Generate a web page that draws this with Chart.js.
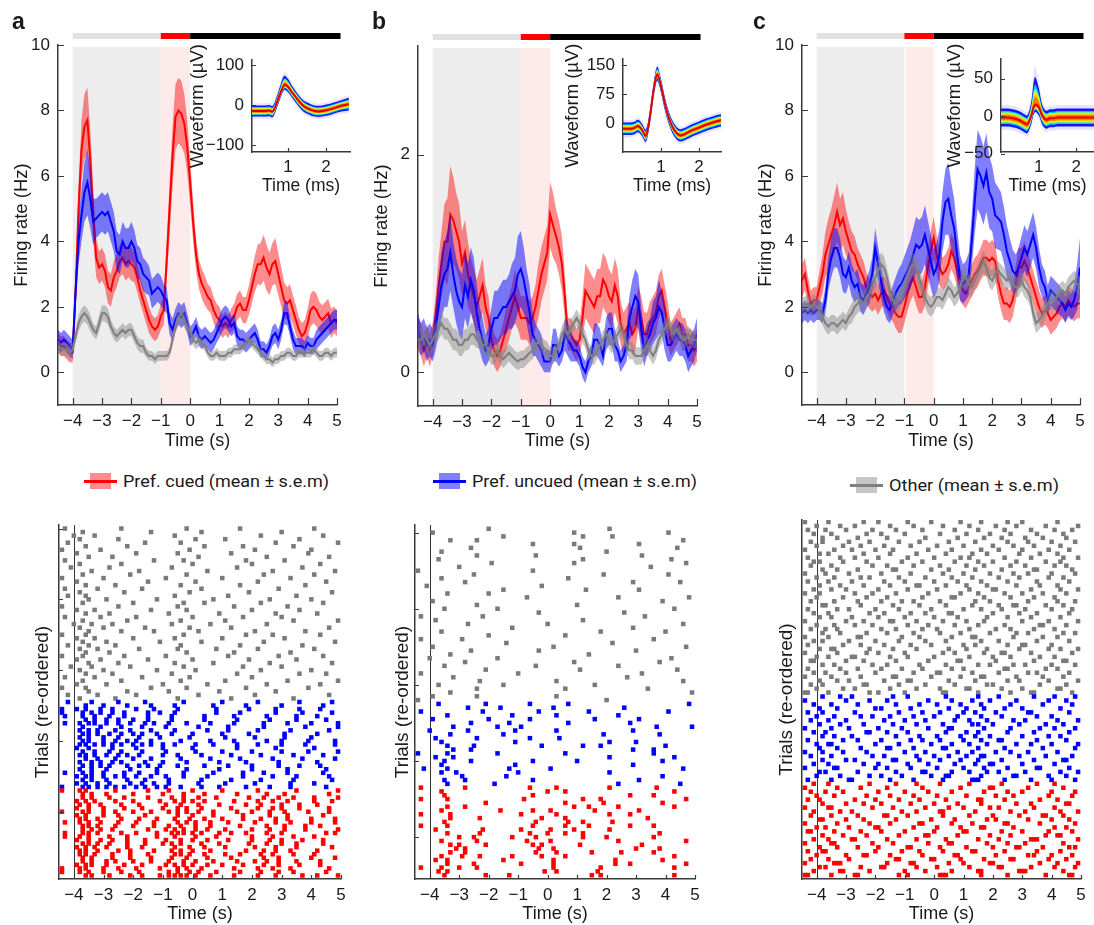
<!DOCTYPE html>
<html>
<head>
<meta charset="utf-8">
<title>Firing rates and spike rasters</title>
<script src="https://cdn.jsdelivr.net/npm/chart.js@4.4.1/dist/chart.umd.min.js"></script>
<style>
  html,body{margin:0;padding:0;background:#fff;}
  #fig{position:relative;width:1094px;height:925px;overflow:hidden;font-family:"Liberation Sans",Arial,sans-serif;color:#1a1a1a;}
  #fig canvas{position:absolute;}
  .letter{position:absolute;font-weight:bold;font-size:23px;line-height:23px;}
  .legend{position:absolute;height:20px;display:flex;align-items:center;white-space:nowrap;}
  .swatch{position:relative;width:33px;height:16px;margin-right:6px;flex:none;}
  .swatch .band{position:absolute;left:6px;top:0;width:21px;height:16px;}
  .swatch .line{position:absolute;left:0;top:6.5px;width:33px;height:3px;}
  .legend .txt{font-family:Roboto,"Liberation Sans",sans-serif;font-size:17px;transform-origin:0 50%;display:inline-block;}
</style>
</head>
<body>
<div id="fig"></div>
<script>
// ---------- firing-rate time bins (s) ----------
const rateBinStart = -4.5;
const rateBinWidth = 0.1;

// ---------- panel a: mean firing rate and s.e.m. (Hz) ----------
const rateA_cued = [
 0.9,0.8,0.8,0.7,0.6,0.6,2.5,5.0,6.8,7.5,
 7.7,6.5,4.8,3.5,3.2,3.3,3.1,2.6,2.5,2.9,
 3.1,3.4,3.5,3.3,3.4,3.3,3.2,2.9,2.5,2.2,
 1.9,1.6,1.4,1.3,1.4,1.7,1.9,3.4,5.0,6.6,
 7.8,8.0,7.9,7.6,6.9,5.8,4.6,3.6,3.0,2.7,
 2.5,2.3,2.2,1.9,1.7,1.6,1.4,1.5,1.4,1.6,
 1.7,2.0,2.1,1.9,1.9,2.2,2.6,3.0,3.3,3.3,
 3.5,3.2,3.0,3.3,3.4,3.0,2.6,2.2,2.1,2.2,
 1.9,1.6,1.3,1.1,1.2,1.5,1.9,2.0,1.9,1.7,
 1.6,1.7,1.8,1.5,1.6,1.5];
const semA_cued = [
 0.3,0.3,0.3,0.3,0.3,0.3,0.5,0.7,0.9,1.0,
 1.0,0.9,0.8,0.6,0.5,0.5,0.5,0.5,0.5,0.5,
 0.5,0.5,0.5,0.5,0.5,0.5,0.45,0.45,0.4,0.4,
 0.4,0.4,0.35,0.35,0.35,0.4,0.45,0.6,0.8,0.9,
 1.0,1.0,1.0,0.9,0.8,0.7,0.6,0.5,0.45,0.45,
 0.45,0.4,0.4,0.4,0.4,0.4,0.35,0.35,0.35,0.35,
 0.4,0.4,0.4,0.4,0.4,0.45,0.5,0.55,0.6,0.65,
 0.7,0.7,0.65,0.65,0.7,0.65,0.6,0.55,0.5,0.5,
 0.45,0.45,0.4,0.4,0.4,0.45,0.5,0.5,0.5,0.45,
 0.45,0.45,0.45,0.45,0.4,0.4];
const rateA_uncued = [
 1.0,0.9,1.0,0.9,0.8,0.7,2.5,4.0,4.8,5.5,
 5.8,5.3,4.6,4.7,4.8,4.9,4.8,4.9,4.6,4.3,
 3.7,3.6,4.0,3.8,3.8,4.0,3.8,3.4,3.3,3.0,
 2.9,2.8,2.4,2.5,2.6,2.5,2.3,2.2,1.5,1.3,
 1.6,1.8,1.7,1.8,1.5,1.1,1.2,1.4,1.1,1.0,
 1.1,1.0,0.9,1.0,1.2,1.4,1.6,1.7,1.6,1.4,
 1.5,1.1,1.0,1.0,0.9,1.0,1.1,1.2,1.0,0.7,
 0.7,0.6,0.8,1.1,1.2,1.0,1.3,1.8,1.8,1.4,
 1.0,0.8,0.8,0.8,0.7,0.9,0.8,0.8,1.0,1.1,
 1.2,1.3,1.4,1.5,1.6,1.6];
const semA_uncued = [
 0.3,0.3,0.3,0.3,0.3,0.3,0.5,0.7,0.8,0.9,
 1.0,0.9,0.7,0.6,0.6,0.6,0.6,0.6,0.6,0.6,
 0.6,0.6,0.6,0.6,0.6,0.6,0.55,0.5,0.5,0.5,
 0.5,0.45,0.45,0.45,0.45,0.45,0.4,0.4,0.35,0.35,
 0.35,0.35,0.35,0.35,0.3,0.3,0.3,0.3,0.3,0.3,
 0.3,0.3,0.3,0.3,0.3,0.35,0.35,0.35,0.35,0.3,
 0.3,0.3,0.3,0.3,0.3,0.3,0.3,0.3,0.3,0.25,
 0.25,0.25,0.25,0.3,0.3,0.3,0.3,0.35,0.35,0.3,
 0.3,0.25,0.25,0.25,0.25,0.25,0.25,0.25,0.3,0.3,
 0.3,0.3,0.3,0.3,0.3,0.3];
const rateA_other = [
 0.8,0.7,0.7,0.7,0.6,0.7,1.1,1.5,1.7,1.8,
 1.7,1.5,1.3,1.2,1.5,1.8,1.8,1.7,1.4,1.2,
 1.1,1.2,1.3,1.2,1.3,1.3,1.1,0.9,0.8,0.8,
 0.6,0.5,0.5,0.4,0.5,0.5,0.5,0.5,0.6,1.0,
 1.4,1.7,1.8,1.6,1.4,1.2,1.0,0.9,1.0,0.9,
 0.8,0.6,0.5,0.5,0.6,0.5,0.5,0.5,0.6,0.6,
 0.7,0.7,0.7,0.8,0.9,1.0,0.9,0.8,0.7,0.6,
 0.5,0.4,0.4,0.3,0.4,0.4,0.5,0.5,0.6,0.6,
 0.5,0.5,0.6,0.6,0.6,0.6,0.6,0.7,0.6,0.5,
 0.5,0.6,0.6,0.5,0.6,0.6];
const semA_other = [
 0.2,0.2,0.2,0.2,0.2,0.2,0.2,0.25,0.25,0.25,
 0.25,0.25,0.2,0.2,0.25,0.25,0.25,0.25,0.2,0.2,
 0.2,0.2,0.2,0.2,0.2,0.2,0.2,0.2,0.2,0.2,
 0.15,0.15,0.15,0.15,0.15,0.15,0.15,0.15,0.15,0.2,
 0.2,0.25,0.25,0.25,0.2,0.2,0.2,0.2,0.2,0.15,
 0.15,0.15,0.15,0.15,0.15,0.15,0.15,0.15,0.15,0.15,
 0.15,0.15,0.15,0.15,0.15,0.15,0.15,0.15,0.15,0.15,
 0.15,0.15,0.15,0.15,0.15,0.15,0.15,0.15,0.15,0.15,
 0.15,0.15,0.15,0.15,0.15,0.15,0.15,0.15,0.15,0.15,
 0.15,0.15,0.15,0.15,0.15,0.15];

// ---------- panel b ----------
const rateB_cued = [
 0.35,0.3,0.2,0.3,0.2,0.3,0.5,0.8,1.0,1.2,
 1.2,1.45,1.4,1.3,1.2,1.0,1.1,0.9,0.8,0.7,
 0.6,0.7,0.8,0.6,0.5,0.3,0.2,0.15,0.2,0.3,
 0.4,0.5,0.6,0.7,0.6,0.5,0.5,0.5,0.45,0.5,
 0.6,0.75,0.9,1.0,1.1,1.45,1.35,1.25,1.15,1.0,
 0.7,0.35,0.35,0.3,0.25,0.3,0.5,0.75,0.7,0.65,
 0.6,0.7,0.7,0.85,0.8,0.7,0.65,0.8,0.7,0.45,
 0.35,0.4,0.45,0.35,0.4,0.6,0.5,0.35,0.35,0.45,
 0.5,0.55,0.7,0.75,0.6,0.45,0.3,0.35,0.4,0.45,
 0.35,0.35,0.25,0.25,0.2,0.25];
const semB_cued = [
 0.15,0.15,0.15,0.15,0.15,0.15,0.2,0.25,0.3,0.35,
 0.4,0.45,0.4,0.35,0.35,0.3,0.3,0.3,0.25,0.25,
 0.25,0.25,0.25,0.2,0.2,0.15,0.15,0.15,0.15,0.15,
 0.2,0.2,0.2,0.25,0.2,0.2,0.2,0.2,0.2,0.2,
 0.2,0.25,0.25,0.25,0.25,0.3,0.3,0.25,0.25,0.25,
 0.2,0.15,0.15,0.15,0.15,0.15,0.2,0.25,0.25,0.25,
 0.25,0.25,0.25,0.25,0.25,0.25,0.25,0.25,0.25,0.2,
 0.2,0.2,0.2,0.2,0.2,0.2,0.2,0.2,0.2,0.2,
 0.2,0.2,0.2,0.2,0.2,0.2,0.15,0.15,0.15,0.15,
 0.15,0.15,0.15,0.15,0.15,0.15];
const rateB_uncued = [
 0.4,0.3,0.35,0.25,0.3,0.25,0.4,0.6,0.8,0.9,
 0.95,1.1,0.9,0.75,0.65,0.6,0.8,0.7,0.85,0.75,
 0.55,0.4,0.3,0.2,0.25,0.4,0.5,0.5,0.55,0.6,
 0.6,0.65,0.7,0.75,0.9,0.95,0.85,0.7,0.55,0.35,
 0.3,0.25,0.2,0.1,0.1,0.1,0.25,0.25,0.15,0.2,
 0.35,0.3,0.25,0.2,0.2,0.15,0.05,0.0,0.1,0.15,
 0.3,0.3,0.25,0.15,0.35,0.4,0.4,0.25,0.2,0.1,
 0.15,0.25,0.5,0.6,0.7,0.65,0.4,0.2,0.3,0.35,
 0.45,0.5,0.6,0.55,0.4,0.25,0.25,0.3,0.35,0.3,
 0.3,0.25,0.15,0.2,0.25,0.35];
const semB_uncued = [
 0.15,0.15,0.15,0.15,0.15,0.15,0.2,0.25,0.3,0.3,
 0.35,0.35,0.3,0.3,0.3,0.3,0.3,0.3,0.3,0.3,
 0.25,0.2,0.2,0.15,0.15,0.2,0.25,0.25,0.25,0.25,
 0.25,0.25,0.3,0.3,0.35,0.35,0.3,0.25,0.25,0.2,
 0.15,0.15,0.15,0.1,0.1,0.1,0.15,0.15,0.1,0.1,
 0.15,0.15,0.15,0.1,0.1,0.1,0.1,0.1,0.1,0.1,
 0.15,0.15,0.15,0.1,0.15,0.15,0.15,0.15,0.1,0.1,
 0.1,0.15,0.2,0.25,0.25,0.25,0.2,0.15,0.15,0.15,
 0.2,0.2,0.25,0.2,0.2,0.15,0.15,0.15,0.15,0.15,
 0.15,0.15,0.15,0.15,0.15,0.15];
const rateB_other = [
 0.3,0.3,0.35,0.3,0.25,0.3,0.35,0.4,0.45,0.4,
 0.4,0.35,0.3,0.3,0.25,0.25,0.3,0.3,0.35,0.35,
 0.3,0.3,0.25,0.25,0.2,0.15,0.15,0.2,0.15,0.12,
 0.15,0.18,0.15,0.12,0.1,0.12,0.12,0.15,0.18,0.2,
 0.25,0.28,0.25,0.22,0.2,0.15,0.15,0.2,0.25,0.35,
 0.4,0.35,0.4,0.45,0.5,0.45,0.35,0.3,0.2,0.15,
 0.15,0.2,0.25,0.3,0.35,0.3,0.25,0.3,0.35,0.4,
 0.35,0.25,0.2,0.2,0.15,0.15,0.15,0.2,0.25,0.2,
 0.15,0.2,0.3,0.35,0.4,0.45,0.4,0.35,0.4,0.35,
 0.3,0.3,0.35,0.3,0.3,0.3];
const semB_other = [
 0.1,0.1,0.1,0.1,0.1,0.1,0.1,0.1,0.1,0.1,
 0.1,0.1,0.1,0.1,0.1,0.1,0.1,0.1,0.1,0.1,
 0.08,0.08,0.08,0.08,0.08,0.08,0.08,0.08,0.08,0.08,
 0.08,0.08,0.08,0.08,0.08,0.08,0.08,0.08,0.08,0.08,
 0.08,0.08,0.08,0.08,0.08,0.08,0.08,0.08,0.08,0.08,
 0.08,0.08,0.08,0.08,0.08,0.08,0.08,0.08,0.08,0.08,
 0.08,0.08,0.08,0.08,0.08,0.08,0.08,0.08,0.08,0.08,
 0.08,0.08,0.08,0.08,0.08,0.08,0.08,0.08,0.08,0.08,
 0.08,0.08,0.08,0.08,0.08,0.08,0.08,0.08,0.08,0.08,
 0.08,0.08,0.08,0.08,0.08,0.08];

// ---------- panel c ----------
const rateC_cued = [
 2.8,3.0,2.5,2.1,2.2,2.2,2.6,3.0,3.6,3.9,
 4.2,4.5,4.9,4.5,4.7,4.3,4.0,3.7,3.6,3.3,
 3.1,2.9,2.6,2.4,2.3,2.4,2.2,2.4,2.5,2.3,
 2.1,2.0,1.8,1.7,1.7,2.0,2.4,2.7,2.9,2.6,
 2.3,2.3,2.6,3.2,3.7,4.1,3.6,3.2,3.0,3.1,
 3.3,3.7,3.5,3.1,2.7,2.5,2.4,2.6,2.8,3.0,
 3.1,3.3,3.5,3.5,3.4,3.5,3.4,2.8,2.4,2.1,
 2.1,2.0,2.2,2.7,3.2,3.2,3.4,3.2,2.9,2.6,
 2.3,2.0,1.8,1.9,1.8,1.6,1.7,1.8,2.0,2.1,
 2.0,2.2,2.1,2.0,2.1,2.1];
const semC_cued = [
 0.5,0.5,0.45,0.4,0.4,0.4,0.5,0.6,0.7,0.8,
 0.8,0.9,0.9,0.8,0.8,0.7,0.6,0.6,0.55,0.5,
 0.5,0.5,0.45,0.45,0.45,0.45,0.45,0.45,0.45,0.45,
 0.45,0.45,0.45,0.5,0.5,0.5,0.55,0.55,0.55,0.55,
 0.5,0.5,0.55,0.6,0.6,0.65,0.6,0.55,0.5,0.5,
 0.5,0.55,0.55,0.5,0.5,0.45,0.45,0.45,0.5,0.5,
 0.5,0.5,0.55,0.55,0.55,0.55,0.55,0.5,0.5,0.5,
 0.5,0.5,0.5,0.55,0.6,0.6,0.6,0.55,0.5,0.5,
 0.5,0.5,0.45,0.45,0.45,0.45,0.45,0.45,0.45,0.45,
 0.45,0.45,0.45,0.45,0.45,0.45];
const rateC_uncued = [
 1.8,1.9,1.8,1.9,1.8,1.9,1.9,1.8,2.2,3.0,
 3.5,3.8,3.8,3.5,3.0,2.9,3.2,2.8,2.6,2.7,
 2.3,2.2,2.4,2.6,3.0,3.8,3.3,2.8,2.3,2.0,
 1.9,2.2,2.4,2.6,2.7,2.9,3.1,3.3,3.6,3.9,
 3.8,3.9,4.2,3.8,3.4,3.0,3.2,3.6,4.6,5.2,
 5.3,4.8,4.4,3.6,2.9,2.7,2.8,3.0,4.0,5.2,
 6.2,6.0,5.7,6.1,5.5,5.3,4.8,4.7,4.6,4.2,
 3.7,3.4,3.1,3.0,3.2,3.5,3.8,3.6,3.9,4.2,
 3.8,3.2,2.8,2.6,2.2,2.5,2.4,2.3,2.2,2.1,
 1.9,2.1,2.0,2.2,2.6,3.2];
const semC_uncued = [
 0.3,0.3,0.3,0.3,0.3,0.3,0.3,0.3,0.4,0.5,
 0.6,0.6,0.6,0.6,0.55,0.5,0.5,0.5,0.45,0.45,
 0.45,0.45,0.45,0.5,0.5,0.6,0.55,0.5,0.45,0.4,
 0.4,0.45,0.5,0.55,0.6,0.65,0.7,0.75,0.8,0.85,
 0.85,0.85,0.9,0.85,0.8,0.75,0.75,0.8,0.9,1.0,
 1.1,1.0,0.9,0.8,0.7,0.6,0.6,0.65,0.8,1.0,
 1.2,1.2,1.2,1.2,1.1,1.0,1.0,0.95,0.9,0.85,
 0.8,0.7,0.65,0.6,0.6,0.65,0.7,0.7,0.7,0.7,
 0.65,0.6,0.5,0.5,0.45,0.45,0.45,0.45,0.45,0.4,
 0.4,0.4,0.4,0.5,0.7,0.9];
const rateC_other = [
 2.0,2.0,2.1,2.0,2.1,2.0,1.9,1.7,1.5,1.4,
 1.5,1.5,1.4,1.5,1.6,1.5,1.7,1.8,2.0,2.1,
 2.2,2.1,2.3,2.4,2.6,2.9,3.1,3.3,3.2,2.9,
 2.5,2.2,2.1,2.2,2.4,2.6,2.9,3.2,3.3,3.2,
 2.9,2.6,2.3,2.1,2.0,2.1,2.3,2.3,2.2,2.4,
 2.6,2.5,2.3,2.4,2.6,2.9,2.9,2.7,2.6,2.8,
 3.0,3.2,3.4,3.2,2.9,2.8,3.0,3.1,3.0,2.9,
 2.8,2.9,2.7,2.6,2.6,2.8,2.6,2.5,2.3,1.8,
 1.5,1.6,1.7,1.9,2.1,2.2,2.2,2.3,2.4,2.5,
 2.4,2.6,2.7,2.8,2.7,2.6];
const semC_other = [
 0.3,0.3,0.3,0.3,0.3,0.3,0.3,0.25,0.25,0.25,
 0.25,0.25,0.25,0.25,0.25,0.25,0.25,0.3,0.3,0.3,
 0.3,0.3,0.3,0.3,0.3,0.35,0.35,0.35,0.35,0.3,
 0.3,0.3,0.3,0.3,0.3,0.3,0.35,0.35,0.35,0.35,
 0.35,0.3,0.3,0.3,0.3,0.3,0.3,0.3,0.3,0.3,
 0.3,0.3,0.3,0.3,0.3,0.3,0.3,0.3,0.3,0.3,
 0.3,0.3,0.35,0.3,0.3,0.3,0.3,0.3,0.3,0.3,
 0.3,0.3,0.3,0.3,0.3,0.3,0.3,0.3,0.3,0.3,
 0.3,0.3,0.3,0.3,0.3,0.3,0.3,0.3,0.3,0.3,
 0.3,0.3,0.3,0.3,0.3,0.3];

// ---------- axis ticks ----------
const timeTicks = [-4,-3,-2,-1,0,1,2,3,4,5];
const rateTicksA = [0,2,4,6,8,10];
const rateTicksB = [0,2];
const rateTicksC = [0,2,4,6,8,10];
const waveTimeTicks = [1,2];
const waveTicksA = [-100,0,100];
const waveTicksB = [0,75,150];
const waveTicksC = [-50,0,50];
const trialTicksA = [19,39,59,79,99];
const trialTicksB = [11,31,51,71,91];
const trialTicksC = [];

// ---------- spike waveforms (µV) ----------
const waveTime = [0,0.1,0.2,0.3,0.4,0.5,0.6,0.7,0.8,0.9,1.0,1.1,1.2,1.3,1.4,1.5,1.6,1.7,1.8,1.9,2.0,2.1,2.2,2.3,2.4,2.5,2.6];
const waveA    = [-15,-15,-15,-15,-15,-14,-16,5,30,50,45,32,20,8,-2,-8,-12,-15,-16,-15,-13,-11,-8,-5,-2,0,2];
const waveA_hi = [14,14,14,14,14,14,14,16,20,23,20,17,15,14,14,14,14,14,14,14,14,14,14,14,14,15,16];
const waveA_lo = [14,14,14,14,14,14,14,13,12,12,13,13,14,14,14,14,14,14,14,14,14,14,14,14,14,15,16];
const waveB    = [-15,-15,-15,-13,-8,-18,-33,10,80,125,95,50,15,-10,-25,-32,-30,-25,-20,-16,-12,-8,-4,-1,2,5,7];
const waveB_hi = [16,16,16,16,16,16,16,17,18,20,18,17,16,16,16,16,16,16,16,16,16,16,16,16,16,16,16];
const waveB_lo = [16,16,16,16,16,16,16,16,16,16,16,16,16,16,16,16,16,16,16,16,16,16,16,16,16,16,16];
const waveC    = [-2,-2,-2,-3,-4,-6,-9,-11,0,15,12,0,-5,-3,-3,-2,-2,-2,-2,-2,-2,-2,-2,-2,-2,-2,-2];
const waveC_hi = [12,12,12,12,12,12,12,12,18,37,26,14,12,12,12,12,12,12,12,12,12,12,12,12,12,12,12];
const waveC_lo = [12,12,12,12,12,12,12,12,11,10,11,12,12,12,12,12,12,12,12,12,12,12,12,12,12,12,12];

// ---------- spike rasters: one array of spike times (s) per trial ----------
const rasterA_cued = [
 [-3.6,-3.4,-2.8,-2.1,-1.7,-1.1,-0.8,-0.6,-0.4,-0.2,0.1,0.6,1.4,2.2,2.8,3.7,4.2,4.9],
 [-4.4,-3.8,-3.5,-3.0,-2.4,-1.8,-0.8,-0.5,-0.1,0.2,0.8,1.6,2.3,2.9,3.4,4.5],
 [-4.4,-3.8,-3.6,-3.0,-2.5,-1.9,-1.1,-0.5,-0.2,0.3,1.4,2.2,2.7,3.3,4.6],
 [-3.9,-3.6,-3.4,-2.9,-2.3,-1.7,-0.9,-0.6,-0.3,0.0,0.5,1.0,1.7,2.4,2.9,3.6,4.3],
 [-3.7,-3.4,-2.9,-2.6,-2.0,-1.4,-0.8,-0.3,0.1,0.7,1.5,2.1,2.5,2.9,3.5,4.3],
 [-3.7,-3.4,-2.7,-2.1,-1.4,-0.7,-0.2,0.5,1.3,2.4,2.9,4.0,4.8],
 [-3.8,-3.6,-3.3,-2.7,-2.1,-1.5,-0.6,-0.4,-0.1,0.4,1.1,1.6,2.3,2.7,3.4,4.1],
 [-3.8,-3.6,-3.2,-2.5,-2.1,-1.3,-0.7,-0.4,0.0,0.6,1.8,2.4,2.8,3.3,4.2],
 [-3.9,-3.6,-3.3,-2.9,-2.2,-1.7,-0.6,-0.1,0.4,1.1,2.1,2.8,3.5,4.7],
 [-3.7,-3.5,-3.2,-2.8,-2.2,-1.6,-1.0,-0.7,-0.4,0.3,0.9,1.9,2.5,3.0,3.5,4.4],
 [-3.9,-3.5,-3.1,-2.7,-2.2,-1.6,-0.9,-0.4,0.0,0.5,1.2,2.0,2.6,3.0,3.7,4.4],
 [-4.3,-3.8,-3.5,-2.8,-2.2,-1.2,-0.6,0.1,0.8,2.0,2.7,3.4,4.1],
 [-4.3,-3.7,-3.5,-3.2,-2.4,-1.9,-1.2,-0.7,-0.5,-0.3,0,0.3,0.9,1.3,1.8,2.5,3.0,4.5,4.8],
 [-3.7,-3.4,-3.1,-2.7,-1.5,-0.9,-0.6,-0.3,0.1,0.5,1.1,2.0,2.6,3.1,3.8,4.9],
 [-3.7,-3.5,-3.2,-2.6,-2.0,-1.3,-0.8,-0.4,0.1,0.6,1.6,2.5,3.1,3.8,4.3],
 [-4.3,-3.8,-3.5,-3.1,-2.5,-1.9,-1.3,-0.5,-0.2,0.1,0.6,1.2,2.1,2.8,3.3,4.0,4.8],
 [-3.8,-3.6,-3.2,-2.4,-1.8,-1.2,-0.6,-0.1,0.4,1.0,1.7,2.3,2.8,3.2,4.0,4.8],
 [-3.9,-3.6,-3.0,-2.5,-1.6,-0.5,0.0,0.7,1.7,2.6,3.2,4.4],
 [-4.4,-3.7,-3.5,-3.0,-2.6,-2.0,-1.4,-0.8,-0.5,-0.2,0.2,0.7,1.5,2.0,2.6,3.1,3.9,4.6],
 [-3.9,-3.5,-3.0,-2.3,-1.7,-1.0,-0.5,-0.2,0.3,1.3,2.2,2.7,3.0,3.6,4.6],
 [-3.8,-3.5,-3.1,-2.4,-1.8,-0.9,-0.4,0.2,0.9,1.8,2.3,3.0,3.6,4.2],
 [-3.9,-3.6,-3.3,-2.6,-2.0,-1.1,-0.6,-0.3,0.0,0.4,1.4,2.2,2.7,3.2,4.1,4.7],
 [-3.7,-3.4,-2.8,-2.3,-1.5,-0.7,-0.3,0.2,0.8,1.9,2.4,2.9,3.4,4.1,4.9],
 [-3.7,-3.4,-2.9,-2.0,-1.0,-0.3,0.4,1.5,2.5,3.1,4.6],
 [-4.4,-3.8,-3.6,-2.6,-1.5,-0.8,0.0,1.0,2.2,3.5,4.9]];
const rasterA_uncued = [
 [-4.4,-3.7,-3.5,-3.2,-2.9,-2.6,-2.3,-1.9,-1.6,-1.2,-0.9,-0.4,0.3,0.9,1.8,2.6,3.3,4.5],
 [-3.9,-3.6,-3.2,-2.8,-2.1,-1.7,-1.3,-0.8,0.2,1.1,2.1,3.3,4.1],
 [-3.7,-3.4,-2.9,-2.2,-1.6,-0.8,0.3,1.3,2.3,3.4,4.7],
 [-3.9,-3.6,-3.4,-3.0,-2.6,-2.3,-1.9,-1.4,-0.9,-0.3,0.5,1.7,2.7,3.5,4.6],
 [-4.3,-3.7,-3.4,-3.0,-2.3,-1.8,-1.2,-0.3,0.7,1.7,2.4,3.2,4.4],
 [-3.8,-3.4,-2.9,-2.1,-1.2,-0.2,0.9,2.0,3.2,4.5],
 [-3.7,-3.4,-3.1,-2.8,-2.2,-1.8,-1.5,-1.1,-0.5,0.4,1.2,2.0,2.9,3.6,4.3],
 [-3.8,-3.4,-3.1,-2.7,-2.4,-1.6,-1.0,-0.2,0.9,1.8,2.9,4.2],
 [-3.6,-3.2,-2.6,-2.0,-1.4,-0.4,0.6,1.6,2.7,3.7,4.8],
 [-3.8,-3.6,-3.3,-2.9,-2.5,-2.2,-1.8,-1.0,-0.5,0.3,1.3,2.3,3.4,4.4],
 [-3.7,-3.3,-2.8,-2.4,-1.7,-0.9,0.1,1.0,2.0,3.0,3.9,4.9],
 [-3.9,-3.5,-2.7,-1.9,-1.0,0.0,1.5,2.8,4.1],
 [-3.8,-3.6,-3.3,-3.0,-2.7,-2.4,-2.0,-1.7,-1.4,-1.0,-0.6,0.1,0.7,1.5,2.2,3.0,3.8,4.8],
 [-3.7,-3.5,-3.0,-2.6,-2.2,-1.9,-1.4,-0.4,0.6,1.4,2.5,3.0,3.9,4.8],
 [-3.8,-3.5,-3.0,-2.5,-1.8,-1.1,-0.1,1.1,2.1,3.1,4.0],
 [-3.7,-3.5,-3.2,-2.8,-2.4,-2.0,-1.7,-1.2,-0.7,0.0,1.0,1.9,3.1,4.2],
 [-3.8,-3.5,-3.2,-2.6,-2.1,-1.4,-0.6,0.5,1.2,2.2,3.3,4.6],
 [-3.7,-3.1,-2.4,-1.7,-0.9,0.2,1.2,2.4,3.8,4.9],
 [-4.3,-3.8,-3.5,-3.3,-2.9,-2.5,-2.1,-1.6,-1.3,-0.8,-0.2,0.6,1.4,2.4,3.2,4.0,4.9],
 [-3.6,-3.3,-2.9,-2.5,-2.0,-1.5,-0.7,0.4,1.5,2.6,3.5,4.5],
 [-4.3,-3.7,-3.3,-2.8,-2.3,-1.5,-0.7,0.4,1.4,2.5,3.5,4.2],
 [-4.4,-3.7,-3.4,-3.1,-2.7,-2.3,-1.5,-1.1,-0.6,0.8,1.6,2.8,3.7,4.7],
 [-4.4,-3.9,-3.6,-3.1,-2.7,-1.9,-1.3,-0.5,0.8,1.9,2.8,3.6,4.3],
 [-3.6,-3.0,-2.2,-1.4,-0.6,0.7,1.8,3.0,4.4],
 [-4.2,-3.4,-2.5,-1.6,-0.3,1.0,2.2,3.6,4.7]];
const rasterA_other = [
 [-3.8,-2.6,-0.5,1.3,3.4],[-4.2,-3.2,-1.9,0.2,2.1,4.6],[-3.5,-2.2,-0.8,0.9,2.8],
 [-4.4,-3.6,-1.4,-0.2,1.8,3.9],[-3.9,-2.9,-1.0,0.5,2.5,4.3],[-3.7,-2.4,-0.4,1.1,3.2,4.9],
 [-4.3,-3.3,-1.7,-0.1,2.0],[-3.6,-2.7,-0.7,1.5,3.6,4.5],[-3.8,-3.0,-1.2,0.1,2.3,4.0],
 [-4.1,-3.4,-2.1,-0.3,1.7,3.0],[-3.5,-2.5,-0.6,0.7,2.6,4.7],[-3.9,-3.1,-1.5,0.0,1.9,3.5],
 [-4.4,-3.7,-2.3,-0.9,1.2,2.9,4.4],[-3.6,-2.8,-0.2,1.4,3.3],[-3.8,-3.2,-1.8,-0.5,0.8,2.2,4.1],
 [-4.2,-3.5,-2.6,-0.4,1.6,3.7],[-3.7,-2.9,-1.1,0.3,2.4,4.8],[-3.9,-3.3,-2.0,-0.6,1.0,3.1],
 [-4.4,-3.6,-0.3,1.8,2.7,4.3],[-3.5,-2.4,-1.3,0.2,2.1,3.8],[-3.8,-3.0,-1.6,-0.1,1.3,4.6],
 [-4.0,-3.4,-2.7,-0.7,0.6,2.5],[-3.7,-2.2,-0.4,1.1,3.4,4.9],[-4.3,-3.1,-1.9,0.0,1.7,3.0],
 [-3.6,-2.8,-0.8,0.9,2.8,4.2],[-3.9,-3.3,-1.4,-0.2,2.0,3.6],[-4.4,-2.5,-0.5,1.4,3.2],
 [-3.7,-2.0,-0.3,0.4,2.3,4.4],[-3.5,-2.9,-1.2,0.7,2.6,4.0],[-4.2,-3.6,-0.6,1.2,3.5],
 [-3.8,-2.3,-0.1,1.9,4.7],[-4.3,-3.2,-1.7,0.3,2.9],[-3.6,-2.6,-0.4,1.6,3.8],
 [-3.9,-1.5,0.1,2.2,4.5],[-4.4,-3.0,-0.9,1.0,3.3],[-3.7,-2.1,-0.2,2.4,4.1],
 [-3.4,-1.8,0.5,2.7,4.8],[-4.1,-2.8,-0.7,1.5,3.7],[-3.8,-2.4,0.0,2.0,4.3],
 [-4.3,-1.3,-0.3,1.8,3.1],[-3.5,-2.7,0.2,2.5,4.6],[-3.9,-1.9,-0.5,1.3,3.9],
 [-4.4,-3.1,-0.1,2.1,4.0],[-3.6,-2.2,0.4,1.7,3.4],[-4.2,-1.6,-0.4,2.8,4.9],
 [-3.8,-2.5,0.1,1.1,3.6],[-4.0,-3.3,-0.6,2.3,4.4],[-3.7,-1.4,0.3,3.0],
 [-4.3,-2.4,-0.2,1.6,4.1]];

const rasterB_cued = [
 [-3.5,-2.1,-1.3,1.5,1.8,4.3],[-3.7,-3.4,-0.1,0.3,1.7],[-4.3,-3.6,-3.0,-2.4,0.2,1.8,4.3],
 [-3.4,-2.5,-0.9,0.2,2.3,2.8,4.7],[-3.8,-3.4,-1.5,0.2,2.3,3.9],[-3.6,-2.9,-2.3,-1.2,-0.2,0.6,4.3],
 [-3.3,-2.8,-0.4,0.3,1.5,2.5,3.6],[-3.1,-2.8,-0.3,0.2,3.0,3.8],[-3.3,-3.0,-2.1,-0.5,-0.2,1.1,3.2],
 [-3.6,-2.4,-0.7,0.1,2.4,4.7],[-3.0,-2.5,-1.2,-0.4,1.2,2.0,3.6],[-3.4,-2.3,-0.6,0.0,0.6,1.2,3.8],
 [-3.8,-2.2,-0.9,0.1,0.9,2.1],[-4.3,-3.4,-0.5,0.6,1.4,2.8,3.6],[-3.5,-0.4,0.7,1.2,2.2],
 [-3.3,-2.3,-0.2,0.6,3.4],[-4.3,-3.3,-0.9,0.3,2.1,2.8],[-3.6,-1.6,-0.5,0.1,1.6,3.1],
 [-3.4,-2.8,0.9,1.4,2.4,4.3],[-2.1,0.6,1.9,3.9],[-4.3,-3.4,-0.8,1.2,1.8,4.7],
 [-3.5,-0.5,2.8,3.6],[-3.6,0.0,0.6,4.3],[-4.3,-2.8,-0.6,0.3,2.1,3.7]];
const rasterB_uncued = [
 [-3.4,-1.8,2.4,4.5],[-3.5,-2.8,-0.5,3.1],[-2.9,-1.4,3.9],[-3.6,-3.1,-1.0,2.1],
 [-4.2,-3.4,-1.3,0.1,4.6],[-3.6,-1.1,2.9],[-3.5,-2.6,-0.5,1.0,3.9],[-3.8,-3.2,2.1,4.3],
 [-4.4,-3.4,-1.7,0.6,3.6],[-3.2,-2.6,2.9,3.6],[-3.4,-2.5,-0.2,1.2,1.8,4.0],[-3.6,-1.1,2.1,3.0],
 [-3.8,-2.4,-0.6,0.4],[-3.3,-1.5,1.9,3.8],[-4.0,-2.7,-1.1,0.3,2.9],[-3.2,-1.7,-0.9,3.7,4.9],
 [-2.6,-1.3,0.7,2.8],[-3.9,-2.0,-0.6,1.6,3.1],[-3.4,-1.2,0.3,2.4],[-4.3,-2.2,-0.3,1.4,4.1],
 [-2.7,-1.6,0.2,2.6],[-3.7,-2.1,-0.6,0.7,4.8]];
const rasterB_other = [
 [-4.4,2.0],[-3.9,-2.4,0.3],[-3.3,4.9],[-2.4,0.6,3.4],[-3.7,-1.5,1.6],[-2.3,0.3,4.6],
 [-3.2,2.7],[-4.3,-1.0,3.2],[-2.1,1.1,4.4],[-3.5,-0.4,2.4],[-2.8,0.9,3.8],[-4.0,-1.7,4.2],
 [-3.3,1.4],[-2.6,-0.3,3.0],[-3.9,0.2,4.7],[-1.4,2.2],[-4.3,-2.9,3.6],[-2.0,0.6],
 [-3.6,1.8,4.0],[-1.2,2.9],[-2.7,0.0,4.6],[-3.8,1.2],[-4.3,-2.2,3.3],[-0.3,2.6],
 [-3.5,-1.7,4.3],[-2.4,1.0],[-3.9,3.9],[-0.7,2.4,4.8],[-3.4,-2.0],[-1.5,1.3,3.1],
 [-4.1,-0.2],[-2.8,2.9,4.5],[-3.6,0.7],[-2.5,1.9,4.1],[-4.4,-0.5],[-3.0,3.5],
 [-1.9,0.9,4.7],[-3.7,1.2,4.2],[-2.4,-0.4,3.2],[-3.6,2.0],[-2.6,1.1,4.4],[-0.5,0.9,3.1],
 [-3.3,-2.4,4.6],[-1.5,1.2,2.2],[-3.9,0.9,4.1],[-2.0,2.1]];

const rasterC_cued = [
 [-4.4,-4.3,-3.5,-2.7,-2.6,-1.2,-0.9,0.2,0.3,0.4,1.6,2.5,3.8,4.6,4.7],
 [-4.1,-3.2,-3.1,-2.2,-1.0,-0.3,0.6,1.5,1.6,2.9,3.0,3.1,4.4],
 [-3.9,-3.7,-2.5,-1.8,-1.7,-0.6,0.1,1.2,2.2,2.3,3.3,4.1,4.8],
 [-4.4,-3.4,-3.3,-3.2,-1.6,-0.8,-0.7,0.5,1.0,1.9,2.0,3.6,4.2,4.9],
 [-4.2,-3.6,-2.9,-1.3,-1.2,-0.1,0.0,0.9,1.7,2.6,2.7,3.9,4.5],
 [-4.0,-3.0,-2.4,-2.3,-1.5,-0.4,0.7,0.8,2.1,3.2,3.4,4.0,4.7],
 [-4.3,-3.8,-3.7,-2.0,-1.1,-0.5,0.3,1.3,1.4,2.4,3.5,4.3],
 [-3.9,-3.3,-2.6,-1.9,-0.9,-0.8,0.2,1.1,2.0,2.8,2.9,3.7,4.6,4.8],
 [-4.4,-3.5,-3.4,-2.1,-1.4,-0.2,0.5,0.6,1.8,2.5,3.1,4.4],
 [-4.1,-3.6,-2.8,-2.7,-1.6,-0.6,0.4,1.5,2.2,3.3,3.4,3.5,4.9],
 [-3.8,-3.1,-2.3,-1.2,-0.3,-0.2,0.8,1.9,2.6,3.8,4.2,4.3],
 [-4.3,-4.2,-3.4,-2.5,-1.8,-1.0,0.0,1.0,1.1,2.3,3.0,3.9,4.7],
 [-4.0,-3.7,-2.9,-2.0,-1.9,-0.7,0.1,0.9,1.6,1.7,2.7,4.1,4.5],
 [-4.4,-3.3,-2.2,-1.5,-0.5,-0.4,0.6,1.3,2.4,2.5,3.6,4.8],
 [-3.9,-3.8,-3.0,-2.4,-1.3,-0.1,0.7,1.8,2.1,3.2,4.0,4.6],
 [-4.2,-3.5,-2.6,-1.7,-1.6,-0.9,0.3,1.2,2.0,2.9,3.7,3.8,4.4],
 [-4.1,-3.2,-2.8,-1.1,-0.6,0.2,0.3,1.4,2.6,3.1,4.3,4.9],
 [-4.4,-3.6,-3.5,-2.1,-1.4,-0.3,0.5,1.0,1.9,2.2,3.4,4.1],
 [-3.8,-3.0,-2.4,-1.8,-0.8,0.0,0.8,1.6,2.8,3.3,4.5,4.6],
 [-4.3,-3.9,-2.7,-2.0,-1.2,-0.5,0.4,1.5,1.6,2.4,3.6,4.2],
 [-4.0,-3.4,-2.3,-1.5,-0.7,0.1,1.1,2.1,2.7,3.9,4.7],
 [-4.2,-3.7,-3.1,-1.9,-1.0,-0.2,0.6,1.7,2.5,3.0,4.0,4.8],
 [-4.4,-3.3,-2.5,-1.6,-0.4,0.9,1.9,2.0,3.2,4.4],
 [-4.1,-3.6,-2.2,-1.3,-0.6,0.2,1.2,2.3,3.5,4.1]];
const rasterC_uncued = [
 [-4.3,-3.5,-2.9,-2.8,-1.5,-0.7,0.3,1.3,1.4,1.5,2.4,3.3,4.0,4.8],
 [-4.0,-3.2,-2.2,-1.8,-1.1,-0.1,0.4,0.5,1.6,2.7,2.8,3.9,4.5],
 [-3.9,-3.7,-2.6,-1.3,-0.4,-0.3,0.6,1.2,1.8,2.2,3.1,4.3,4.9],
 [-4.4,-3.4,-3.3,-2.0,-1.6,-0.8,0.1,1.0,1.7,2.5,3.5,3.6,4.6],
 [-4.1,-3.6,-2.4,-1.9,-0.9,-0.2,0.7,1.4,1.9,2.0,3.0,4.1],
 [-3.8,-3.0,-2.7,-1.4,-1.3,-0.5,0.2,0.9,1.5,2.3,3.4,4.4,4.5],
 [-4.2,-3.5,-2.1,-1.7,-0.6,0.0,0.5,1.1,1.6,1.7,2.9,3.8,4.7],
 [-4.4,-3.8,-3.1,-2.3,-1.0,-0.3,0.8,1.3,2.1,2.6,3.2,4.2],
 [-3.9,-3.3,-2.5,-1.6,-1.5,-0.7,0.3,0.4,1.5,2.4,3.7,4.8],
 [-4.0,-3.6,-3.5,-2.0,-1.2,-0.1,0.6,1.2,1.8,2.8,3.3,4.0,4.9],
 [-4.3,-3.1,-2.6,-1.8,-0.8,-0.4,0.2,1.0,1.6,2.2,2.3,3.5,4.5],
 [-3.8,-3.4,-2.8,-1.3,-0.5,0.1,0.9,1.4,1.9,3.0,3.9,4.3],
 [-4.1,-3.7,-2.3,-2.2,-1.6,-0.9,0.4,1.1,1.5,2.5,3.4,4.6],
 [-4.4,-3.5,-2.9,-1.9,-1.1,-0.2,0.5,0.6,1.7,2.6,3.6,4.1,4.8],
 [-3.9,-3.2,-2.4,-1.4,-0.6,0.3,1.3,1.5,2.0,2.9,3.8,4.4],
 [-4.2,-3.6,-3.0,-1.7,-1.0,-0.3,0.7,1.2,1.8,2.7,3.1,4.2,4.9],
 [-4.0,-3.4,-2.5,-2.1,-1.5,-0.7,0.0,0.8,1.6,2.3,3.5,4.0],
 [-4.3,-3.8,-2.7,-1.2,-0.4,0.2,1.0,1.4,2.1,3.2,3.3,4.6],
 [-3.9,-3.3,-2.0,-1.8,-0.8,0.5,1.1,1.7,2.4,3.0,4.3],
 [-4.1,-3.5,-2.6,-1.3,-0.5,0.1,0.9,1.6,2.6,3.7,4.7],
 [-4.4,-3.0,-2.2,-1.6,-0.2,0.6,1.3,1.9,2.8,3.9,4.5],
 [-3.8,-3.2,-2.8,-1.4,-0.9,0.4,1.5,2.2,3.4,4.1,4.8]];
const rasterC_other = [
 [-4.4,-4.3,-3.6,-2.2,-1.9,-1.0,0.3,0.4,1.5,2.6,3.3,3.4,4.7],
 [-4.0,-3.1,-2.7,-1.5,-0.6,0.2,1.1,1.2,2.3,3.0,4.2,4.3],
 [-4.2,-3.8,-2.4,-2.3,-1.2,-0.3,0.7,1.8,2.0,3.6,4.5],
 [-3.9,-3.3,-2.9,-1.7,-0.9,-0.8,0.5,1.4,2.5,2.9,3.9,4.9],
 [-4.4,-3.5,-2.5,-1.4,-1.3,-0.1,0.9,1.6,1.7,2.8,3.7,4.4],
 [-4.1,-3.7,-3.0,-2.0,-0.7,0.1,0.2,1.3,2.2,3.2,3.5,4.6],
 [-4.3,-3.2,-2.6,-1.8,-1.1,-0.4,0.6,1.0,2.4,2.5,3.8,4.2],
 [-3.8,-3.4,-2.1,-1.6,-0.5,0.4,1.5,1.9,2.7,3.1,4.0,4.8],
 [-4.2,-4.1,-3.0,-2.4,-1.3,-0.2,0.8,0.9,2.1,3.4,4.4,4.5],
 [-4.0,-3.6,-2.8,-2.7,-1.5,-0.9,0.0,1.2,2.0,2.6,3.6,4.1],
 [-4.4,-3.3,-2.3,-1.9,-1.0,0.3,0.7,1.7,2.3,2.4,3.3,4.7],
 [-3.9,-3.5,-3.4,-2.2,-1.4,-0.6,0.5,1.1,1.8,2.9,3.9,4.3,4.9],
 [-4.3,-3.1,-2.5,-1.7,-0.8,-0.1,1.0,1.4,2.5,3.0,3.1,4.0],
 [-4.1,-3.8,-2.9,-2.0,-1.2,-0.3,0.4,1.6,2.2,3.5,4.6],
 [-4.4,-3.6,-2.6,-2.5,-1.1,-0.5,0.6,1.3,1.4,2.7,3.7,4.2],
 [-3.8,-3.2,-2.3,-1.6,-0.7,0.2,0.9,1.9,2.8,3.2,4.4,4.8],
 [-4.2,-3.7,-3.3,-1.8,-1.3,-0.4,0.1,1.2,2.1,2.6,3.4,4.1],
 [-4.0,-3.4,-2.7,-2.1,-0.9,-0.2,0.7,1.5,2.4,3.6,3.7,4.5],
 [-4.4,-3.0,-2.4,-1.5,-1.4,-0.6,0.3,1.1,1.7,3.0,3.9,4.9],
 [-3.9,-3.5,-2.8,-1.9,-1.0,0.0,0.8,1.8,2.5,3.3,4.3],
 [-4.1,-3.6,-2.2,-1.7,-0.8,-0.3,0.5,0.6,2.0,2.9,3.5,4.6],
 [-4.3,-3.3,-2.9,-2.0,-1.2,-0.1,1.0,1.6,2.3,3.1,4.0,4.7],
 [-3.8,-3.7,-2.5,-1.4,-0.5,0.4,1.3,2.2,2.7,2.8,3.8,4.4],
 [-4.2,-3.4,-2.6,-1.8,-1.1,-0.7,0.2,1.4,1.9,3.2,4.2,4.8],
 [-4.0,-3.1,-2.3,-1.6,-0.4,0.6,0.7,1.7,2.6,3.4,4.1],
 [-4.4,-3.9,-2.7,-2.1,-1.3,-0.2,0.9,1.5,2.4,3.0,3.7,4.5],
 [-4.1,-3.5,-3.0,-1.9,-0.9,0.1,1.2,2.0,2.1,3.3,4.3,4.9],
 [-3.9,-3.2,-2.4,-1.5,-0.6,-0.5,0.4,1.1,1.8,2.8,3.6,4.2],
 [-4.3,-3.6,-2.8,-1.7,-1.0,0.0,0.8,1.6,2.5,3.5,4.6],
 [-4.0,-3.4,-2.5,-2.2,-1.2,-0.3,0.6,1.3,2.2,2.9,3.9,4.4],
 [-4.4,-3.7,-2.9,-1.8,-0.8,0.3,1.0,1.9,2.7,3.2,4.0,4.8],
 [-3.8,-3.3,-2.6,-1.4,-1.3,-0.1,0.5,1.4,2.3,3.4,3.5,4.7],
 [-4.2,-3.5,-2.1,-1.6,-0.7,0.2,1.1,1.7,2.6,3.1,4.1,4.5],
 [-4.1,-3.9,-3.1,-2.3,-1.1,-0.4,0.7,1.5,2.0,2.8,3.8,4.3],
 [-4.3,-3.2,-2.7,-1.9,-0.9,0.0,0.9,1.2,2.4,3.3,4.4,4.9],
 [-3.9,-3.6,-2.4,-1.5,-0.6,0.4,1.3,1.8,2.9,3.6,4.2],
 [-4.4,-3.4,-2.8,-2.0,-1.4,-0.2,0.6,1.6,2.2,3.0,3.9,4.6],
 [-4.0,-3.1,-2.5,-1.7,-0.8,0.1,1.0,2.0,2.7,3.4,4.3],
 [-4.2,-3.8,-2.9,-2.2,-1.2,-0.5,0.5,1.4,2.5,3.2,4.0,4.8],
 [-3.8,-3.3,-2.6,-1.6,-0.3,0.8,1.7,2.3,3.1,3.7,4.5],
 [-4.1,-3.5,-2.3,-1.8,-1.0,0.2,1.1,1.9,2.6,3.5,4.4],
 [-4.3,-3.7,-3.0,-2.1,-1.3,-0.4,0.7,1.5,2.4,3.3,4.1,4.7],
 [-4.0,-3.2,-2.7,-1.5,-0.7,0.3,1.2,2.1,2.8,3.8,4.9],
 [-4.4,-3.6,-2.4,-1.9,-0.9,-0.1,0.9,1.6,2.5,3.0,4.2]];

// ---------- legend labels ----------
const legendLabels = ['Pref. cued (mean \u00b1 s.e.m)', 'Pref. uncued (mean \u00b1 s.e.m)', 'Other (mean \u00b1 s.e.m)'];
const panelLetters = ['a', 'b', 'c'];

// ---------- styling ----------
const COL = {
  cued:   {line: '#ff0000', band: 'rgba(255,0,0,0.45)',   dot: '#ff0000'},
  uncued: {line: '#0000ff', band: 'rgba(0,0,255,0.5)',    dot: '#0000ff'},
  other:  {line: '#7f7f7f', band: 'rgba(128,128,128,0.45)', dot: '#7a7a7a'}
};
const AXIS_COLOR = '#3a3a3a';
const TEXT_COLOR = '#1a1a1a';
const FONT = '"Liberation Sans", Arial, sans-serif';
const TICK_SIZE = 17;
Chart.defaults.font.family = FONT;
Chart.defaults.color = TEXT_COLOR;

const fig = document.getElementById('fig');
const fmtTick = v => (v < 0 ? '\u2212' + Math.abs(v) : String(v));

function makeCanvas(left, top, w, h) {
  const c = document.createElement('canvas');
  c.width = w; c.height = h;
  c.style.left = left + 'px'; c.style.top = top + 'px';
  c.style.width = w + 'px'; c.style.height = h + 'px';
  fig.appendChild(c);
  return c;
}

// inward-pointing tick marks on the bottom and left axes
const inwardTicks = {
  id: 'inwardTicks',
  afterDraw(chart, args, opts) {
    const {ctx, chartArea: a} = chart;
    const xs = chart.scales.x, ys = chart.scales.y;
    ctx.save();
    ctx.strokeStyle = AXIS_COLOR;
    ctx.lineWidth = 1.2;
    ctx.beginPath();
    xs.ticks.forEach(t => {
      const p = Math.round(xs.getPixelForValue(t.value)) + 0.5;
      ctx.moveTo(p, a.bottom); ctx.lineTo(p, a.bottom - opts.xLen);
    });
    ys.ticks.forEach(t => {
      const p = Math.round(ys.getPixelForValue(t.value)) + 0.5;
      ctx.moveTo(a.left, p); ctx.lineTo(a.left + opts.yLen, p);
    });
    ctx.stroke();
    ctx.restore();
  }
};

// task epochs: shaded cue / delay windows and the epoch bar above the plot
const epochPlugin = {
  id: 'epochs',
  beforeDraw(chart, args, opts) {
    const {ctx, chartArea: a, scales: {x}} = chart;
    const px = v => x.getPixelForValue(v);
    ctx.save();
    ctx.fillStyle = '#ededed';
    ctx.fillRect(px(-4), a.top + 2, px(-1) - px(-4), a.bottom - a.top - 2);
    ctx.fillStyle = '#fdeaea';
    ctx.fillRect(px(-1) + (opts.gap ? 1.5 : 0), a.top + 2, px(0) - px(-1) - (opts.gap ? 1.5 : 0), a.bottom - a.top - 2);
    const y = a.top - 12, h = 6;
    ctx.fillStyle = '#e2e2e2'; ctx.fillRect(px(-4), y, px(-1) - px(-4), h);
    ctx.fillStyle = '#ff0000'; ctx.fillRect(px(-1), y, px(0) - px(-1), h);
    ctx.fillStyle = '#000000'; ctx.fillRect(px(0), y, px(5.12) - px(0), h);
    ctx.restore();
  }
};

function axisBase(opts) {
  return {
    type: 'linear',
    min: opts.min, max: opts.max,
    grid: {display: false, drawTicks: false},
    border: {display: true, color: AXIS_COLOR, width: 1.5},
    ticks: {
      display: opts.showLabels !== false,
      padding: opts.pad, autoSkip: false, maxRotation: 0,
      font: {size: TICK_SIZE}, color: TEXT_COLOR,
      callback: v => fmtTick(v)
    },
    afterBuildTicks: s => { s.ticks = opts.ticks.map(v => ({value: v})); },
    title: {display: true, text: opts.title, font: {size: opts.titleSize}, color: TEXT_COLOR, padding: opts.titlePad},
    afterFit: s => { if (opts.width != null) s.width = opts.width; if (opts.height != null) s.height = opts.height; }
  };
}

function rateChart(p) {
  const canvas = makeCanvas(p.left, 0, p.width, 460);
  const times = p.series[0].mean.map((_, i) => +(rateBinStart + i * rateBinWidth).toFixed(2));
  const datasets = [];
  p.series.forEach((s, k) => {
    const base = 10 - k * 3;
    datasets.push({data: s.mean.map((m, i) => ({x: times[i], y: m - s.sem[i]})), borderWidth: 0, pointRadius: 0, fill: false, order: base + 2});
    datasets.push({data: s.mean.map((m, i) => ({x: times[i], y: m + s.sem[i]})), borderWidth: 0, pointRadius: 0, fill: '-1', backgroundColor: s.col.band, order: base + 1});
    datasets.push({data: s.mean.map((m, i) => ({x: times[i], y: m})), borderColor: s.col.line, borderWidth: 2, pointRadius: 0, fill: false, order: base});
  });
  new Chart(canvas, {
    type: 'line',
    data: {datasets},
    options: {
      responsive: false, animation: false, devicePixelRatio: 1,
      layout: {padding: {left: 0, right: p.padRight, top: p.top, bottom: 0}, autoPadding: false},
      plugins: {legend: {display: false}, tooltip: {enabled: false}, inwardTicks: {xLen: 7, yLen: 6}, epochs: {gap: p.gap}},
      scales: {
        x: axisBase({min: -4.5, max: 5, ticks: timeTicks, pad: 6, title: 'Time (s)', titleSize: 18, titlePad: {top: 0, bottom: 8}, height: 460 - p.top - p.plotH}),
        y: axisBase({min: p.yMin, max: p.yMax, ticks: p.yTicks, pad: 8, title: 'Firing rate (Hz)', titleSize: 18.5, titlePad: {top: 11, bottom: 0}, width: 58})
      }
    },
    plugins: [epochPlugin, inwardTicks]
  });
}

// jet-like density shading of the spike waveform, outer band first
const jetBands = [
  {k: 1.4, color: 'rgba(110,110,255,0.18)'},
  {k: 1.0, color: '#1414ff'},
  {k: 0.72, color: '#00c4ff'},
  {k: 0.57, color: '#8cff6a'},
  {k: 0.45, color: '#ffe000'},
  {k: 0.3, color: '#ff7800'}
];

function waveChart(p) {
  const canvas = makeCanvas(p.left, 40, p.width, 160);
  const datasets = [];
  jetBands.forEach((b, j) => {
    const ord = 100 - j * 2;
    datasets.push({data: p.wave.map((m, i) => ({x: waveTime[i], y: m - b.k * p.lo[i]})), borderWidth: 0, pointRadius: 0, fill: false, tension: 0.35, order: ord + 1});
    datasets.push({data: p.wave.map((m, i) => ({x: waveTime[i], y: m + b.k * p.hi[i]})), borderWidth: 0, pointRadius: 0, fill: '-1', backgroundColor: b.color, tension: 0.35, order: ord});
  });
  datasets.push({data: p.wave.map((m, i) => ({x: waveTime[i], y: m})), borderColor: '#e00000', borderWidth: 2, pointRadius: 0, fill: false, tension: 0.35, order: 0});
  new Chart(canvas, {
    type: 'line',
    data: {datasets},
    options: {
      responsive: false, animation: false, devicePixelRatio: 1,
      layout: {padding: {left: 0, right: p.padRight, top: p.padTop, bottom: 0}, autoPadding: false},
      plugins: {legend: {display: false}, tooltip: {enabled: false}, inwardTicks: {xLen: 4, yLen: 4}},
      scales: {
        x: axisBase({min: p.xMin, max: p.xMax, ticks: waveTimeTicks, pad: 5, title: 'Time (ms)', titleSize: 17.5, titlePad: {top: 0, bottom: 3.5}, height: 48}),
        y: axisBase({min: p.yMin, max: p.yMax, ticks: p.yTicks, pad: 8, title: 'Waveform (\u00b5V)', titleSize: 18.5, titlePad: {top: p.titleOffset, bottom: 0}, width: p.axisW})
      }
    },
    plugins: [inwardTicks]
  });
}

// vertical marker at cue onset in the raster
const cueLine = {
  id: 'cueLine',
  beforeDatasetsDraw(chart) {
    const {ctx, chartArea: a, scales: {x}} = chart;
    const p = Math.round(x.getPixelForValue(-4)) + 0.5;
    ctx.save();
    ctx.strokeStyle = '#333'; ctx.lineWidth = 1;
    ctx.beginPath(); ctx.moveTo(p, a.top); ctx.lineTo(p, a.bottom); ctx.stroke();
    ctx.restore();
  }
};

function rasterPoints(rows, firstTrial) {
  const pts = [];
  rows.forEach((row, i) => row.forEach(t => pts.push({x: t, y: firstTrial + i})));
  return pts;
}

function rasterChart(p) {
  const canvas = makeCanvas(p.left, 500, p.width, 425);
  let first = 1;
  const datasets = p.groups.map(g => {
    const ds = {data: rasterPoints(g.rows, first), pointStyle: 'rect', pointRadius: 3.2, backgroundColor: g.col.dot, borderWidth: 0};
    first += g.rows.length;
    return ds;
  });
  new Chart(canvas, {
    type: 'scatter',
    data: {datasets},
    options: {
      responsive: false, animation: false, devicePixelRatio: 1,
      layout: {padding: {left: 0, right: p.padRight, top: p.padTop, bottom: 0}, autoPadding: false},
      plugins: {legend: {display: false}, tooltip: {enabled: false}, inwardTicks: {xLen: 4, yLen: 4}},
      elements: {point: {hoverRadius: 3.2}},
      scales: {
        x: axisBase({min: -4.5, max: 5, ticks: timeTicks, pad: 6, title: 'Time (s)', titleSize: 18, titlePad: {top: 0, bottom: 0}, height: 425 - p.padTop - p.plotH}),
        y: axisBase({min: 0, max: p.trials, ticks: p.yTicks, pad: 4, showLabels: false, title: 'Trials (re-ordered)', titleSize: 19, titlePad: {top: 31.5, bottom: 0}, width: p.axisW})
      }
    },
    plugins: [cueLine, inwardTicks]
  });
}

// ---------- firing-rate panels ----------
rateChart({left: 0, width: 360, top: 45, plotH: 360, padRight: 23, yMin: -1, yMax: 10, yTicks: rateTicksA,
  series: [
    {mean: rateA_cued, sem: semA_cued, col: COL.cued},
    {mean: rateA_uncued, sem: semA_uncued, col: COL.uncued},
    {mean: rateA_other, sem: semA_other, col: COL.other}]});
rateChart({left: 360, width: 360, top: 46, plotH: 360, padRight: 23, yMin: -0.31, yMax: 3, yTicks: rateTicksB,
  series: [
    {mean: rateB_cued, sem: semB_cued, col: COL.cued},
    {mean: rateB_uncued, sem: semB_uncued, col: COL.uncued},
    {mean: rateB_other, sem: semB_other, col: COL.other}]});
rateChart({left: 744, width: 350, top: 45, plotH: 360, padRight: 14, yMin: -1, yMax: 10, yTicks: rateTicksC, gap: true,
  series: [
    {mean: rateC_cued, sem: semC_cued, col: COL.cued},
    {mean: rateC_uncued, sem: semC_uncued, col: COL.uncued},
    {mean: rateC_other, sem: semC_other, col: COL.other}]});

// ---------- waveform insets ----------
waveChart({left: 170, width: 185, padTop: 20, padRight: 5, axisW: 82, titleOffset: 17,
  xMin: 0.05, xMax: 2.63, yMin: -117.5, yMax: 112.5, yTicks: waveTicksA, wave: waveA, hi: waveA_hi, lo: waveA_lo});
waveChart({left: 540, width: 185, padTop: 19, padRight: 4, axisW: 83, titleOffset: 22,
  xMin: 0, xMax: 2.58, yMin: -75, yMax: 165, yTicks: waveTicksB, wave: waveB, hi: waveB_hi, lo: waveB_lo});
waveChart({left: 918, width: 176, padTop: 19, padRight: 0, axisW: 83, titleOffset: 26,
  xMin: 0, xMax: 2.47, yMin: -48, yMax: 76, yTicks: waveTicksC, wave: waveC, hi: waveC_hi, lo: waveC_lo});

// ---------- rasters ----------
rasterChart({left: 0, width: 360, padTop: 25, plotH: 354, padRight: 19, axisW: 59, trials: 100, yTicks: trialTicksA,
  groups: [{rows: rasterA_cued, col: COL.cued}, {rows: rasterA_uncued, col: COL.uncued}, {rows: rasterA_other, col: COL.other}]});
rasterChart({left: 360, width: 360, padTop: 25, plotH: 354, padRight: 25, axisW: 55, trials: 93, yTicks: trialTicksB,
  groups: [{rows: rasterB_cued, col: COL.cued}, {rows: rasterB_uncued, col: COL.uncued}, {rows: rasterB_other, col: COL.other}]});
rasterChart({left: 744, width: 350, padTop: 20, plotH: 359, padRight: 13, axisW: 58, trials: 90.5, yTicks: trialTicksC,
  groups: [{rows: rasterC_cued, col: COL.cued}, {rows: rasterC_uncued, col: COL.uncued}, {rows: rasterC_other, col: COL.other}]});

// ---------- panel letters ----------
[12, 372, 753].forEach((x, i) => {
  const d = document.createElement('div');
  d.className = 'letter';
  d.style.left = x + 'px'; d.style.top = '10px';
  d.textContent = panelLetters[i];
  fig.appendChild(d);
});

// ---------- legends ----------
const legendPlaces = [
  {left: 84, top: 471, width: 206, col: COL.cued},
  {left: 433, top: 471, width: 225, col: COL.uncued},
  {left: 850, top: 475, width: 170, col: COL.other}
];
legendPlaces.forEach((pl, i) => {
  const el = document.createElement('div');
  el.className = 'legend';
  el.style.left = pl.left + 'px'; el.style.top = pl.top + 'px';
  const sw = document.createElement('div'); sw.className = 'swatch';
  const band = document.createElement('div'); band.className = 'band'; band.style.background = pl.col.band;
  const line = document.createElement('div'); line.className = 'line'; line.style.background = pl.col.line;
  sw.appendChild(band); sw.appendChild(line);
  const txt = document.createElement('span'); txt.className = 'txt'; txt.textContent = legendLabels[i];
  el.appendChild(sw); el.appendChild(txt);
  fig.appendChild(el);
  const w = txt.getBoundingClientRect().width;
  if (w > 0) txt.style.transform = 'scaleX(' + (pl.width / w).toFixed(3) + ')';
});
</script>
</body>
</html>
